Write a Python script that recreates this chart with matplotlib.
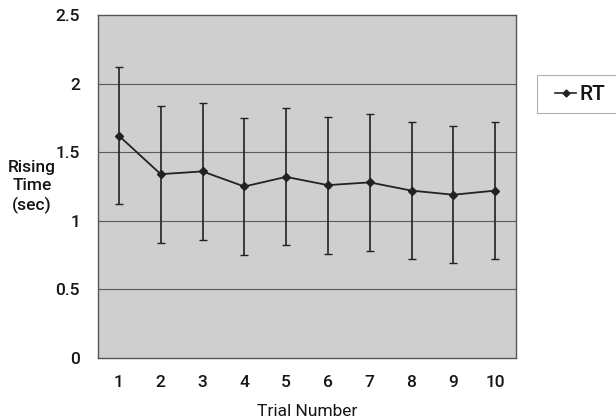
import matplotlib
matplotlib.use("Agg")
import matplotlib.pyplot as plt
from matplotlib.lines import Line2D
from matplotlib.patches import Rectangle

trials = [1, 2, 3, 4, 5, 6, 7, 8, 9, 10]
rt_mean = [1.62, 1.34, 1.36, 1.25, 1.32, 1.26, 1.28, 1.22, 1.19, 1.22]
rt_err = [0.50, 0.50, 0.50, 0.50, 0.50, 0.50, 0.50, 0.50, 0.50, 0.50]
yticks = [0, 0.5, 1, 1.5, 2, 2.5]
ytick_labels = ["0", "0.5", "1", "1.5", "2", "2.5"]
series_name = "RT"

plt.rcParams['font.family'] = ['Roboto', 'DejaVu Sans']
plt.rcParams['font.weight'] = 'medium'
TXT = '#151515'

fig = plt.figure(figsize=(6.16, 4.18), dpi=100)
ax = fig.add_axes([98/616, 1-358/418, (516-98)/616, (358-15)/418])
ax.set_facecolor('#cfcfcf')

for v in yticks[1:-1]:
    ax.axhline(v, color='#5a5a5a', lw=0.8, zorder=1)

ax.errorbar(trials, rt_mean, yerr=rt_err, color='#222222', lw=1.3,
            marker='D', ms=4, ecolor='#222222', elinewidth=1.2,
            capsize=3, capthick=1.0, zorder=3)

ax.set_xlim(0.5, 10.5)
ax.set_ylim(0, 2.5)
ax.set_xticks(trials)
ax.set_xticklabels([str(t) for t in trials])
ax.set_yticks(yticks)
ax.set_yticklabels(ytick_labels)
ax.tick_params(length=0, labelsize=12.5, colors=TXT)
ax.tick_params(axis='y', pad=13)
ax.tick_params(axis='x', pad=12)
for s in ax.spines.values():
    s.set_color('#555555')
    s.set_linewidth(1.0)

ax.set_xlabel('Trial Number', fontsize=12.5, color=TXT, labelpad=10)
fig.text(32/616, 1-187/418, 'Rising\nTime\n(sec)', ha='center', va='center',
         fontsize=12.5, color=TXT, linespacing=1.3)

# legend
handle = Line2D([], [], color='#222222', lw=1.2, marker='D', ms=3.5)
leg = fig.legend([handle], [series_name], loc='center left',
                 bbox_to_anchor=(545/616, 1-95/418), frameon=False,
                 fontsize=15, handlelength=1.0, handletextpad=0.15,
                 borderpad=0.0, labelcolor=TXT)
fig.add_artist(Rectangle((537/616, 1-113/418), 90/616, 38/418,
                         transform=fig.transFigure, fill=False,
                         edgecolor='#b0b0b0', lw=0.8, clip_on=False))

fig.savefig('out.png', dpi=100)
